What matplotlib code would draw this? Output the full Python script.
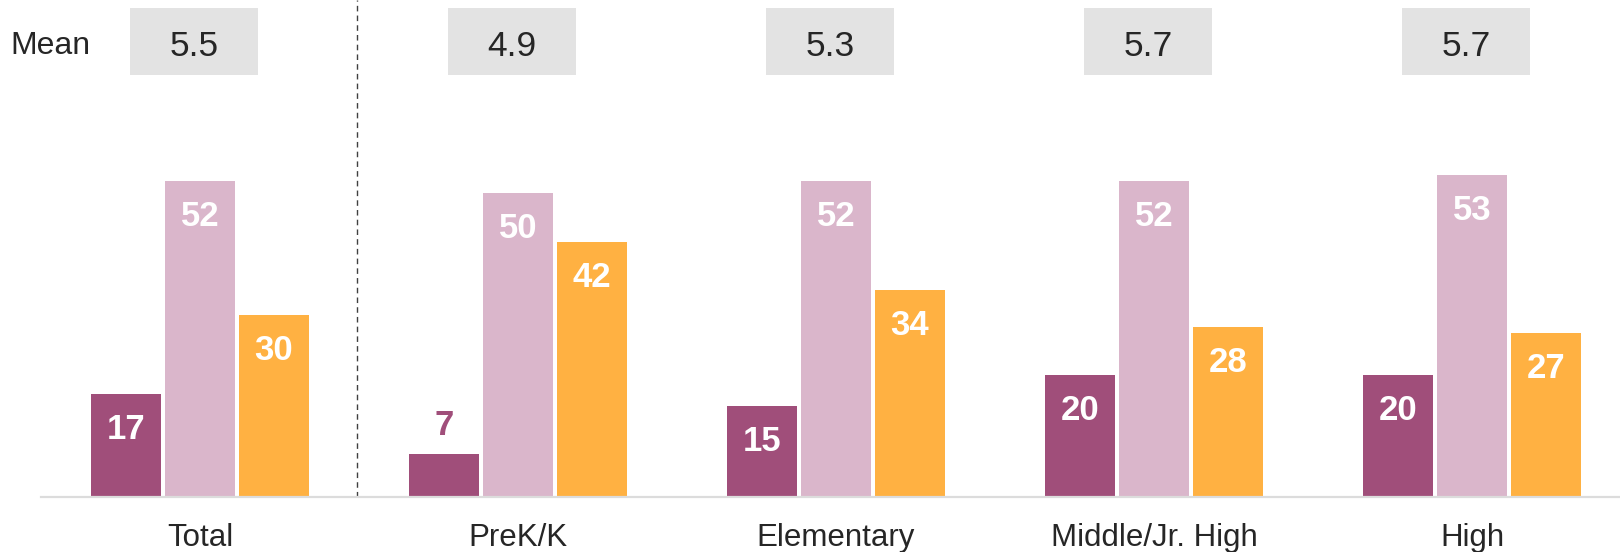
import numpy as np
import matplotlib.pyplot as plt
from matplotlib.patches import Rectangle
from matplotlib.transforms import blended_transform_factory

plt.rcParams['font.family'] = ['Liberation Sans', 'DejaVu Sans']

# data
categories = ['Total', 'PreK/K', 'Elementary', 'Middle/Jr. High', 'High']
series_a = [17, 7, 15, 20, 20]
series_b = [52, 50, 52, 52, 53]
series_c = [30, 42, 34, 28, 27]
means = ['5.5', '4.9', '5.3', '5.7', '5.7']

colors = ['#A04E7A', '#DAB6CB', '#FFB142']
text_dark = '#262626'

W, H = 1620, 552
fig = plt.figure(figsize=(W / 100, H / 100), dpi=100)

# main axes: bottom line at y=497px, left at 41px
ax = fig.add_axes([41 / W, 1 - 497 / H, 1 - 41 / W, 397 / H])
ax.set_xlim(-0.5, (W - 41) / 318 - 0.5)
ax.set_ylim(0, 397 / 6.08)

x = np.arange(len(categories))
bw = 70 / 318
off = 74 / 318
for vals, col, dx in zip([series_a, series_b, series_c], colors, [-off, 0, off]):
    bars = ax.bar(x + dx, vals, width=bw, color=col, linewidth=0)
    for b, v in zip(bars, vals):
        cx = b.get_x() + b.get_width() / 2
        if v < 10:
            ax.annotate(str(v), (cx, v), xytext=(0, 21), textcoords='offset points',
                        ha='center', va='center', fontsize=25, fontweight='bold', color=col)
        else:
            ax.annotate(str(v), (cx, v), xytext=(0, -23), textcoords='offset points',
                        ha='center', va='center_baseline', fontsize=25, fontweight='bold',
                        color='white')

for s in ['top', 'right', 'left']:
    ax.spines[s].set_visible(False)
ax.spines['bottom'].set_color('#DCDCDC')
ax.spines['bottom'].set_linewidth(1.6)
ax.set_yticks([])
ax.set_xticks(x)
ax.set_xticklabels(categories, fontsize=22.5, color=text_dark)
ax.tick_params(axis='x', length=0, pad=19)

# dashed separator between Total and the rest
tr = blended_transform_factory(ax.transData, fig.transFigure)
ax.plot([0.495, 0.495], [1 - 497 / H, 1], transform=tr, color='#404040',
        linewidth=1.0, linestyle=(0, (4, 3)), clip_on=False)

# mean boxes
top = fig.add_axes([41 / W, 1 - 75 / H, 1 - 41 / W, 67 / H])
top.set_xlim(ax.get_xlim())
top.set_ylim(0, 1)
top.axis('off')
box_w = 128 / 318
box_dx = -6 / 318
for i, m in enumerate(means):
    top.add_patch(Rectangle((i + box_dx - box_w / 2, 0), box_w, 1,
                            facecolor='#E3E3E3', edgecolor='none'))
    top.text(i + box_dx, 0.48, m, ha='center', va='center_baseline', fontsize=25.5,
             color=text_dark)

fig.text(10 / W, 1 - 42 / H, 'Mean', ha='left', va='center_baseline', fontsize=23,
         color=text_dark)

fig.savefig('out.png', dpi=100)
